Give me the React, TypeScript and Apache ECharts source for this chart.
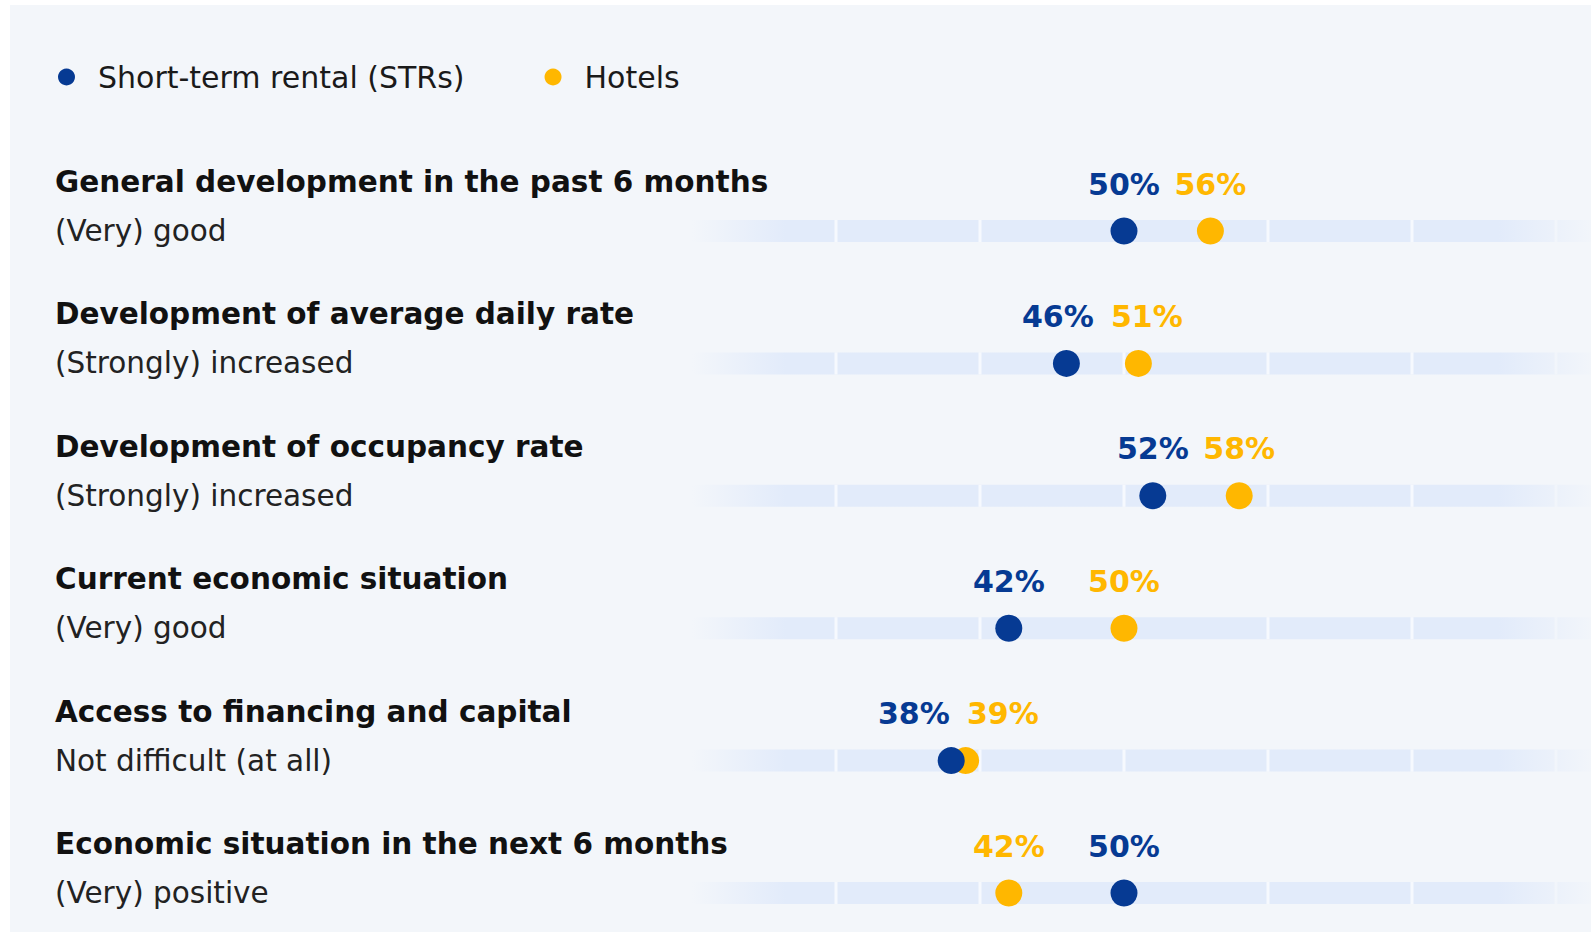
import React, { useEffect, useRef } from "react";
import * as echarts from "echarts";

const categories = [
  "General development in the past 6 months",
  "Development of average daily rate",
  "Development of occupancy rate",
  "Current economic situation",
  "Access to financing and capital",
  "Economic situation in the next 6 months",
];
const subLabels = [
  "(Very) good",
  "(Strongly) increased",
  "(Strongly) increased",
  "(Very) good",
  "Not difficult (at all)",
  "(Very) positive",
];
const strValues = [50, 46, 52, 42, 38, 50];
const hotelValues = [56, 51, 58, 50, 39, 42];
const gridValues = [30, 40, 50, 60, 70, 80];
const trackStart = 20;
const trackEnd = 83;

const STR_NAME = "Short-term rental (STRs)";
const HOTEL_NAME = "Hotels";
const BLUE = "#063A93";
const YELLOW = "#FFB700";
const FONT = "DejaVu Sans";

const X_MIN = 20;
const X_MAX = 80;
const PX_PER_UNIT = 14.4;
const GRID_LEFT = 692;
const GRID_WIDTH = (X_MAX - X_MIN) * PX_PER_UNIT;

function fade(t: number): number {
  if (t <= 20) return 0;
  if (t < 26.5) return (t - 20) / 6.5;
  if (t <= 76) return 1;
  if (t < 83) return (83 - t) / 7;
  return 0;
}

function labelShift(a: number, b: number): [number, number] {
  const d = Math.abs(a - b) * PX_PER_UNIT;
  const threshold = 86;
  const target = 89;
  if (d >= threshold) return [0, 0];
  const push = (target - d) / 2;
  return a <= b ? [-push, push] : [push, -push];
}

export default function App() {
  const ref = useRef<HTMLDivElement>(null);
  useEffect(() => {
    if (!ref.current) return;
    const chart = echarts.init(ref.current, undefined, { renderer: "svg" });

    const strData = strValues.map((v, i) => {
      const [ds] = labelShift(v, hotelValues[i]);
      return { value: [v, i], label: { offset: [ds, -47] } };
    });
    const hotelData = hotelValues.map((v, i) => {
      const [, dh] = labelShift(strValues[i], v);
      return { value: [v, i], label: { offset: [dh, -47] } };
    });

    const valueLabel = (color: string) => ({
      show: true,
      position: "inside",
      formatter: (p: any) => `${p.value[0]}%`,
      color,
      fontFamily: FONT,
      fontWeight: "bold",
      fontSize: 30,
    });

    const option: any = {
      animation: false,
      backgroundColor: "#ffffff",
      graphic: [
        {
          type: "rect",
          z: -10,
          shape: { x: 10, y: 5, width: 1600, height: 940 },
          style: { fill: "#F3F6FA" },
          silent: true,
        },
      ],
      legend: {
        data: [STR_NAME, HOTEL_NAME],
        left: 53,
        top: 54,
        icon: "circle",
        itemWidth: 17,
        itemHeight: 17,
        itemGap: 80,
        selectedMode: false,
        textStyle: {
          fontFamily: FONT,
          fontSize: 30,
          color: "#1a1a1a",
          lineHeight: 36,
          padding: [0, 0, 0, 18],
        },
      },
      grid: {
        left: GRID_LEFT,
        top: 231,
        width: GRID_WIDTH,
        height: 662,
        containLabel: false,
        outerBoundsMode: "none",
      },
      xAxis: {
        type: "value",
        min: X_MIN,
        max: X_MAX,
        show: false,
        splitLine: { show: false },
      },
      yAxis: {
        type: "category",
        inverse: true,
        boundaryGap: false,
        data: categories,
        axisLine: { show: false },
        axisTick: { show: false },
        splitLine: { show: false },
        axisLabel: {
          interval: 0,
          margin: GRID_LEFT - 55,
          align: "left",
          formatter: (value: string, index: number) =>
            `{t|${value}}\n{s|${subLabels[index]}}\n{e| }`,
          rich: {
            t: {
              fontFamily: FONT,
              fontWeight: "bold",
              fontSize: 29.5,
              lineHeight: 49,
              color: "#111111",
            },
            s: {
              fontFamily: FONT,
              fontSize: 29.5,
              lineHeight: 49,
              color: "#222222",
            },
            e: { fontSize: 10, lineHeight: 49 },
          },
        },
      },
      series: [
        {
          type: "custom",
          name: "track",
          z: 1,
          silent: true,
          clip: false,
          data: categories.map((_, i) => [trackStart, i]),
          encode: { x: 0, y: 1 },
          renderItem: (params: any, api: any) => {
            const idx = api.value(1);
            const y = api.coord([trackStart, idx])[1];
            const xs = api.coord([trackStart, idx])[0];
            const xe = api.coord([trackEnd, idx])[0];
            const h = 22;
            const fill = {
              type: "linear",
              x: xs,
              y: 0,
              x2: xe,
              y2: 0,
              global: true,
              colorStops: [
                { offset: 0, color: "rgba(226,235,250,0)" },
                { offset: (26.5 - trackStart) / (trackEnd - trackStart), color: "rgba(226,235,250,1)" },
                { offset: (76 - trackStart) / (trackEnd - trackStart), color: "rgba(226,235,250,1)" },
                { offset: 1, color: "rgba(226,235,250,0)" },
              ],
            };
            const children: any[] = [
              {
                type: "rect",
                shape: { x: xs, y: y - h / 2, width: xe - xs, height: h },
                style: { fill },
              },
            ];
            gridValues.forEach((t) => {
              const gx = api.coord([t, idx])[0];
              const a = fade(t) * 0.7;
              children.push({
                type: "rect",
                shape: { x: gx - 1.5, y: y - h / 2, width: 3, height: h },
                style: { fill: `rgba(255,255,255,${a})` },
              });
            });
            return { type: "group", children };
          },
        },
        {
          type: "scatter",
          name: HOTEL_NAME,
          z: 3,
          symbol: "circle",
          symbolSize: 27,
          itemStyle: { color: YELLOW, opacity: 1 },
          label: valueLabel(YELLOW),
          data: hotelData,
        },
        {
          type: "scatter",
          name: STR_NAME,
          z: 4,
          symbol: "circle",
          symbolSize: 27,
          itemStyle: { color: BLUE, opacity: 1 },
          label: valueLabel(BLUE),
          data: strData,
        },
      ],
    };
    chart.setOption(option);
    return () => chart.dispose();
  }, []);

  return (
    <div
      ref={ref}
      style={{ position: "fixed", left: 0, top: 0, width: "1591px", height: "932px" }}
    />
  );
}
